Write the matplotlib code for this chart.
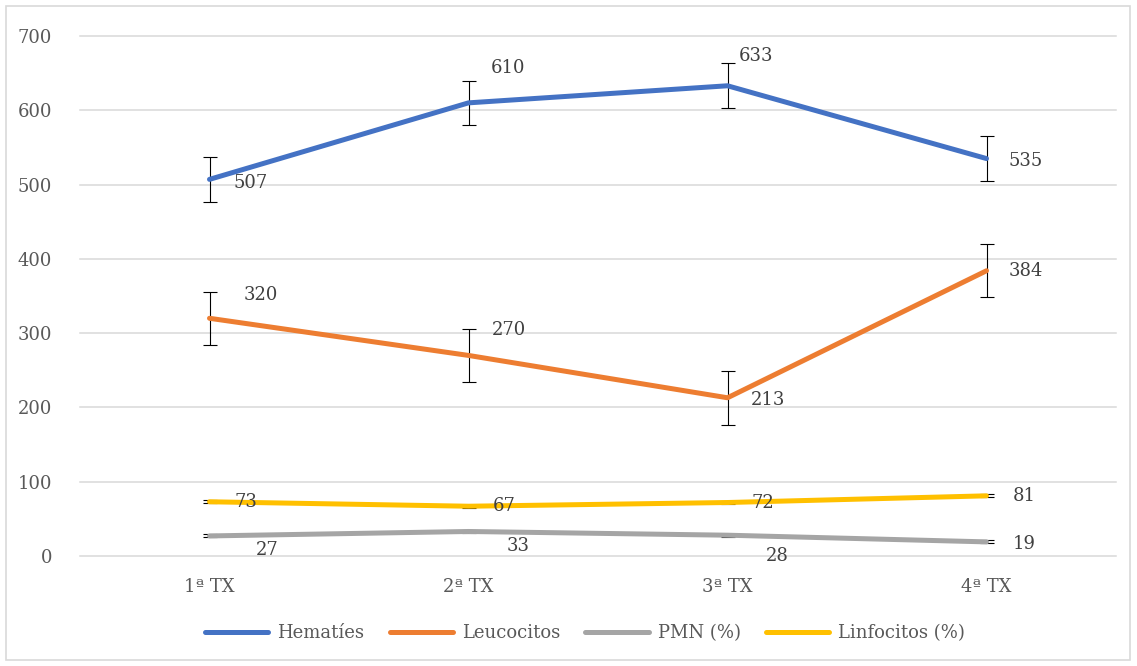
import matplotlib
matplotlib.use("Agg")
import matplotlib.pyplot as plt
from matplotlib.patches import Rectangle

categories = ["1ª TX", "2ª TX", "3ª TX", "4ª TX"]
series_names = ["Hematíes", "Leucocitos", "PMN (%)", "Linfocitos (%)"]
hematies = [507, 610, 633, 535]
leucocitos = [320, 270, 213, 384]
pmn = [27, 33, 28, 19]
linfocitos = [73, 67, 72, 81]
err_hematies = [30, 30, 30, 30]
err_leucocitos = [36, 36, 36, 36]
err_pmn = [2, 2, 2, 2]
err_linfocitos = [2, 2, 2, 2]
colors = ["#4472C4", "#ED7D31", "#A5A5A5", "#FFC000"]
yticks = [0, 100, 200, 300, 400, 500, 600, 700]

# label offsets in pixels (dx, dy) ; dy positive = up
offs_hem = [(41, -4), (40, 35), (28, 30), (39, -2)]
offs_leu = [(51, 23), (40, 25), (41, -2), (39, 0)]
offs_pmn = [(58, -14), (50, -15), (50, -21), (38, -2)]
offs_lin = [(36, 0), (36, 0), (35, 0), (38, 0)]

plt.rcParams['font.family'] = ['DejaVu Serif']

fig = plt.figure(figsize=(11.37, 6.66), dpi=100)
fig.patches.append(Rectangle((6/1137, 6/666), 1124/1137, 654/666, transform=fig.transFigure,
                             fill=False, edgecolor="#D9D9D9", linewidth=1.2))
ax = fig.add_axes([80/1137, 1-556/666, 1036/1137, 520/666])
x = list(range(len(categories)))

for yt in yticks:
    ax.axhline(yt, color='#D9D9D9', lw=1.1, zorder=1, clip_on=False)

data = [hematies, leucocitos, pmn, linfocitos]
errs = [err_hematies, err_leucocitos, err_pmn, err_linfocitos]
offs = [offs_hem, offs_leu, offs_pmn, offs_lin]
for vals, err, col, name, off in zip(data, errs, colors, series_names, offs):
    ax.errorbar(x, vals, yerr=err, fmt='none', ecolor='#000000', elinewidth=0.8,
                capsize=5, capthick=0.8, zorder=2)
    ax.plot(x, vals, color=col, lw=3.6, label=name, solid_capstyle='round', zorder=3)
    for xi, v, (dx, dy) in zip(x, vals, off):
        ax.annotate(str(v), (xi, v), xytext=(dx, dy), textcoords='offset pixels',
                    ha='center', va='center', fontsize=13, color='#404040', zorder=4)

ax.set_xlim(-0.5, 3.5)
ax.set_ylim(0, 700)
ax.set_yticks(yticks)
ax.set_xticks(x)
ax.set_xticklabels(categories)
for s in ax.spines.values():
    s.set_visible(False)
ax.tick_params(axis='both', length=0, labelsize=13, colors='#595959')
ax.tick_params(axis='y', pad=20)
ax.tick_params(axis='x', pad=16)

leg = fig.legend(loc='center', bbox_to_anchor=(585/1137, 1-633/666), ncol=4, frameon=False,
                 fontsize=13, handlelength=3.5, columnspacing=1.4, handletextpad=0.5)
for t in leg.get_texts():
    t.set_color('#595959')

fig.savefig("out.png", dpi=100)
